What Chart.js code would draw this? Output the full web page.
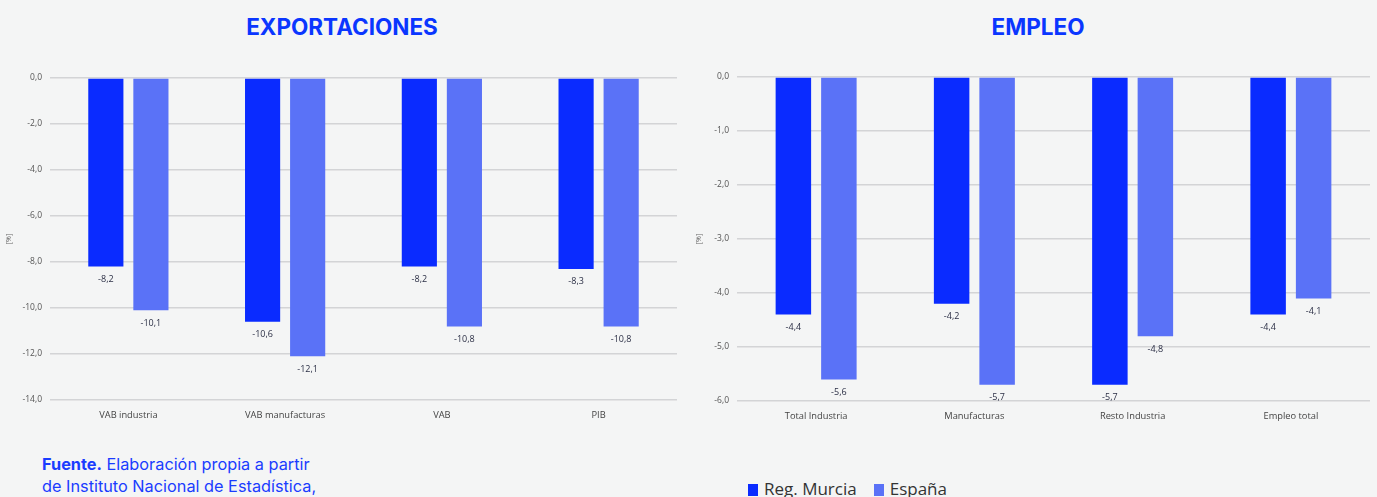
<!DOCTYPE html>
<html>
<head>
<meta charset="utf-8">
<script src="https://cdn.jsdelivr.net/npm/chart.js@4.4.1/dist/chart.umd.min.js"></script>
<style>
  body { margin: 0; background: #f4f5f5; width: 1377px; height: 497px; overflow: hidden; position: relative; font-family: Inter, "Noto Sans", sans-serif; }
  .title { position: absolute; top: 13px; color: #0a36ff; font-weight: 700; font-size: 22.5px; text-align: center; }
  .box { position: absolute; top: 0; height: 450px; }
  #fuente { position: absolute; left: 42px; top: 453px; color: #1a3cff; font-size: 16.3px; line-height: 22px; }
  #legend { position: absolute; left: 748px; top: 477px; font-family: "Open Sans", sans-serif; font-size: 17px; color: #333; }
  #legend span.sq { display: inline-block; width: 10px; height: 12px; margin-right: 6px; vertical-align: -1px; }
</style>
</head>
<body>
<div class="title" style="left:192px;width:300px">EXPORTACIONES</div>
<div class="title" style="left:888px;width:300px">EMPLEO</div>
<div class="box" style="left:0;width:690px"><canvas id="exp"></canvas></div>
<div class="box" style="left:690px;width:687px"><canvas id="emp"></canvas></div>
<div id="fuente"><b>Fuente.</b> Elaboración propia a partir<br>de Instituto Nacional de Estadística,</div>
<div id="legend"><span class="sq" style="background:#0a2bff"></span>Reg. Murcia<span class="sq" style="background:#5a72f7;margin-left:17px"></span>España</div>
<script>
// Datos
const expCategorias = ['VAB industria', 'VAB manufacturas', 'VAB', 'PIB'];
const expMurcia = [-8.2, -10.6, -8.2, -8.3];
const expEspana = [-10.1, -12.1, -10.8, -10.8];

const empCategorias = ['Total Industria', 'Manufacturas', 'Resto Industria', 'Empleo total'];
const empMurcia = [-4.4, -4.2, -5.7, -4.4];
const empEspana = [-5.6, -5.7, -4.8, -4.1];

const colorMurcia = '#0a2bff';
const colorEspana = '#5a72f7';
const fmt = v => v.toFixed(1).replace('.', ',');

// etiquetas debajo de cada barra
const valueLabels = {
  id: 'valueLabels',
  afterDatasetsDraw(chart) {
    const ctx = chart.ctx;
    ctx.save();
    ctx.font = '9px "Open Sans", sans-serif';
    ctx.fillStyle = '#2b2f45';
    ctx.textAlign = 'center';
    ctx.textBaseline = 'middle';
    chart.data.datasets.forEach((ds, i) => {
      chart.getDatasetMeta(i).data.forEach((bar, j) => {
        ctx.fillText(fmt(ds.data[j]), bar.x, bar.y + 13);
      });
    });
    ctx.restore();
  }
};

const makeChart = (id, labels, murcia, espana, min, step, axisW, padRight, padTop, plotH) => {
  return new Chart(document.getElementById(id), {
    type: 'bar',
    data: {
      labels: labels,
      datasets: [
        { label: 'Reg. Murcia', data: murcia, backgroundColor: colorMurcia },
        { label: 'España', data: espana, backgroundColor: colorEspana }
      ]
    },
    options: {
      responsive: true,
      maintainAspectRatio: false,
      animation: false,
      categoryPercentage: 0.575,
      barPercentage: 0.78,
      layout: { padding: { top: padTop, right: padRight, bottom: 450 - padTop - 30 - plotH, left: 5 } },
      plugins: { legend: { display: false }, tooltip: { enabled: false } },
      scales: {
        x: {
          grid: { display: false },
          border: { display: false },
          ticks: { color: '#444', font: { family: '"Open Sans", sans-serif', size: 9.3 }, padding: 2 },
          afterFit: s => { s.height = 30; }
        },
        y: {
          min: min, max: 0,
          grid: { color: '#d3d4d6', lineWidth: 1.5, drawTicks: false },
          border: { display: false },
          ticks: { stepSize: step, color: '#555', font: { family: '"Open Sans", sans-serif', size: 8.5 }, padding: 8, callback: v => fmt(v) },
          title: { display: true, text: '[%]', color: '#666', font: { family: '"Open Sans", sans-serif', size: 7 }, padding: 0 },
          afterFit: s => { s.width = axisW - 5; }
        }
      }
    },
    plugins: [valueLabels]
  });
};

makeChart('exp', expCategorias, expMurcia, expEspana, -14, 2, 50, 13, 78, 322);
makeChart('emp', empCategorias, empMurcia, empEspana, -6, 1, 47, 7, 77, 324);
</script>
</body>
</html>
